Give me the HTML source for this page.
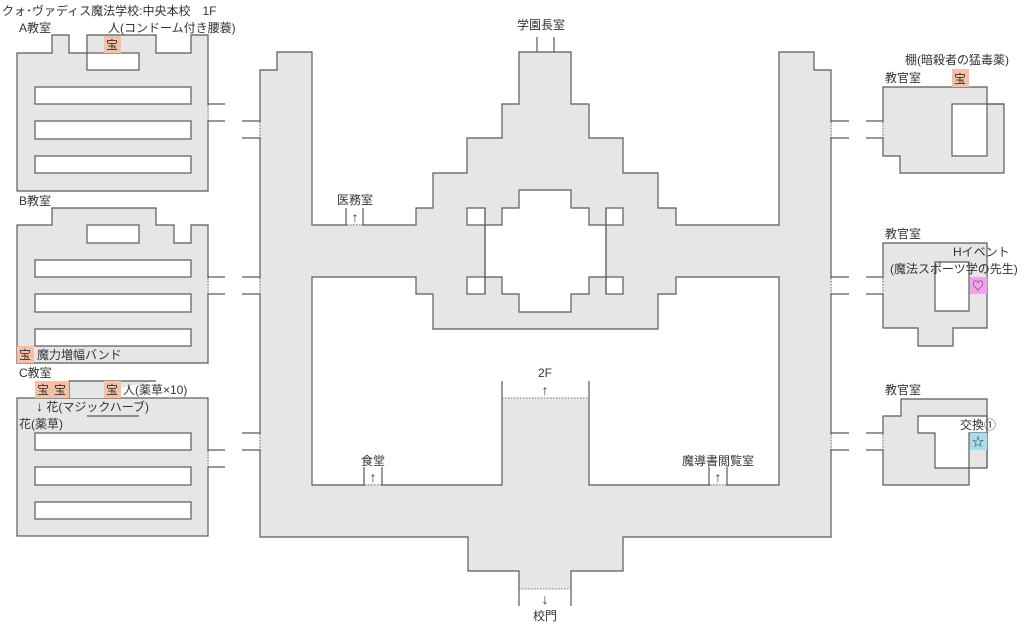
<!DOCTYPE html>
<html><head><meta charset="utf-8"><style>
html,body{margin:0;padding:0;background:#fff;}
svg{display:block;}
text{font-family:"Liberation Sans","Noto Sans CJK JP",sans-serif;font-size:12px;fill:#333;}
.ar{font-size:14px;}
</style></head><body>
<svg width="1024" height="628" viewBox="0 0 1024 628" xmlns="http://www.w3.org/2000/svg">
<g fill="#e6e6e6" stroke="#5a5a5a" stroke-width="1.2">
<path fill-rule="evenodd" stroke="none" d="M260,70 L277,70 L277,52 L312,52 L312,225 L416,225 L416,208 L433,208 L433,173 L467,173 L467,138 L502,138 L502,104 L519,104 L519,52 L571,52 L571,104 L589,104 L589,138 L623,138 L623,173 L658,173 L658,208 L676,208 L676,225 L779,225 L779,52 L814,52 L814,70 L831,70 L831,537 L623,537 L623,571 L571,571 L571,589 L519,589 L519,571 L468,571 L468,537 L260,537 Z
M312,277 L416,277 L416,294 L433,294 L433,329 L658,329 L658,294 L676,294 L676,277 L779,277 L779,485 L589,485 L589,398 L502,398 L502,485 L312,485 Z
M519,190 L571,190 L571,208 L589,208 L589,225 L606,225 L606,277 L589,277 L589,294 L571,294 L571,312 L519,312 L519,294 L502,294 L502,277 L485,277 L485,225 L502,225 L502,208 L519,208 Z"/>
<polyline fill="none" points="571,606 571,571 623,571 623,537 831,537 831,70 814,70 814,52 779,52 779,225 676,225 676,208 658,208 658,173 623,173 623,138 589,138 589,104 571,104 571,52 519,52 519,104 502,104 502,138 467,138 467,173 433,173 433,208 416,208 416,225 312,225 312,52 277,52 277,70 260,70 260,537 468,537 468,571 519,571 519,606"/>
<polyline fill="none" points="589,381 589,485 779,485 779,277 676,277 676,294 658,294 658,329 433,329 433,294 416,294 416,277 312,277 312,485 502,485 502,381"/>
<polygon fill="none" points="519,190 571,190 571,208 589,208 589,225 606,225 606,277 589,277 589,294 571,294 571,312 519,312 519,294 502,294 502,277 485,277 485,225 502,225 502,208 519,208"/>
<rect x="467" y="208" width="18" height="17" fill="#fff"/>
<rect x="467" y="277" width="18" height="17" fill="#fff"/>
<rect x="606" y="208" width="17" height="17" fill="#fff"/>
<rect x="606" y="277" width="17" height="17" fill="#fff"/>
<line x1="485" y1="208" x2="485" y2="294"/>
<line x1="606" y1="208" x2="606" y2="294"/>
<line x1="537" y1="37" x2="537" y2="52"/><line x1="554" y1="37" x2="554" y2="52"/>
<line x1="346" y1="208" x2="346" y2="225"/><line x1="363" y1="208" x2="363" y2="225"/>
<line x1="364" y1="467" x2="364" y2="485"/><line x1="382" y1="467" x2="382" y2="485"/>
<line x1="709" y1="467" x2="709" y2="485"/><line x1="727" y1="467" x2="727" y2="485"/>

<polygon points="17,53 52,53 52,35 69,35 69,53 87,53 87,35 156,35 156,53 191,53 191,35 208,35 208,191 17,191"/>
<rect x="87" y="53" width="52" height="17" fill="#fff"/>
<rect x="35" y="87" width="156" height="17" fill="#fff"/>
<rect x="35" y="121" width="156" height="18" fill="#fff"/>
<rect x="35" y="156" width="156" height="17" fill="#fff"/>
<polygon points="17,225 52,225 52,208 156,208 156,225 174,225 174,243 191,243 191,225 208,225 208,363 17,363"/>
<rect x="87" y="225" width="52" height="18" fill="#fff"/>
<rect x="35" y="260" width="156" height="17" fill="#fff"/>
<rect x="35" y="294" width="156" height="18" fill="#fff"/>
<rect x="35" y="329" width="156" height="17" fill="#fff"/>
<rect x="17" y="398" width="191" height="138"/>
<polyline fill="#e6e6e6" points="69,398 69,381 156,381" />
<rect x="70" y="382" width="50" height="16" stroke="none"/>
<rect x="35" y="433" width="156" height="17" fill="#fff"/>
<rect x="35" y="467" width="156" height="18" fill="#fff"/>
<rect x="35" y="502" width="156" height="17" fill="#fff"/>
<line x1="87" y1="416" x2="139" y2="416"/>

<polygon points="883,87 987,87 987,104 1004,104 1004,173 900,173 900,156 883,156"/>
<rect x="952" y="104" width="35" height="52" fill="#fff"/>
<line x1="987" y1="104" x2="1004" y2="104"/>
<polygon points="883,243 987,243 987,328 953,328 953,346 918,346 918,328 883,328"/>
<polygon points="935,262 969,262 969,311 935,311" fill="#fff"/>
<polygon points="883,416 901,416 901,399 987,399 987,468 969,468 969,485 883,485"/>
<polygon points="918,416 987,416 987,433 969,433 969,468 935,468 935,433 918,433" fill="#fff"/>
<line x1="987" y1="416" x2="987" y2="468"/>

<line x1="208" y1="104" x2="225" y2="104"/><line x1="208" y1="121" x2="225" y2="121"/>
<line x1="242" y1="121" x2="260" y2="121"/><line x1="242" y1="138" x2="260" y2="138"/>
<line x1="208" y1="277" x2="225" y2="277"/><line x1="208" y1="294" x2="225" y2="294"/>
<line x1="242" y1="277" x2="260" y2="277"/><line x1="242" y1="294" x2="260" y2="294"/>
<line x1="208" y1="450" x2="225" y2="450"/><line x1="208" y1="467" x2="225" y2="467"/>
<line x1="242" y1="433" x2="260" y2="433"/><line x1="242" y1="450" x2="260" y2="450"/>
<line x1="831" y1="121" x2="849" y2="121"/><line x1="831" y1="138" x2="849" y2="138"/>
<line x1="866" y1="121" x2="883" y2="121"/><line x1="866" y1="138" x2="883" y2="138"/>
<line x1="831" y1="277" x2="849" y2="277"/><line x1="831" y1="294" x2="849" y2="294"/>
<line x1="866" y1="277" x2="883" y2="277"/><line x1="866" y1="294" x2="883" y2="294"/>
<line x1="831" y1="433" x2="849" y2="433"/><line x1="831" y1="450" x2="849" y2="450"/>
<line x1="866" y1="433" x2="883" y2="433"/><line x1="866" y1="450" x2="883" y2="450"/>
</g>
<g stroke-width="2" stroke="#e6e6e6">
<line x1="208" y1="105" x2="208" y2="120"/>
<line x1="260" y1="122" x2="260" y2="137"/>
<line x1="208" y1="278" x2="208" y2="293"/>
<line x1="260" y1="278" x2="260" y2="293"/>
<line x1="208" y1="451" x2="208" y2="466"/>
<line x1="260" y1="434" x2="260" y2="449"/>
<line x1="831" y1="122" x2="831" y2="137"/>
<line x1="831" y1="278" x2="831" y2="293"/>
<line x1="831" y1="434" x2="831" y2="449"/>
<line x1="883" y1="122" x2="883" y2="137"/>
<line x1="883" y1="278" x2="883" y2="293"/>
<line x1="883" y1="434" x2="883" y2="449"/>
<line x1="347" y1="225" x2="362" y2="225"/>
<line x1="365" y1="485" x2="381" y2="485"/>
<line x1="710" y1="485" x2="726" y2="485"/>
</g>
<g stroke="#777" stroke-width="1" stroke-dasharray="1.5,1.5" fill="none">
<line x1="208" y1="105" x2="208" y2="120"/><line x1="260" y1="122" x2="260" y2="137"/>
<line x1="208" y1="278" x2="208" y2="293"/><line x1="260" y1="278" x2="260" y2="293"/>
<line x1="208" y1="451" x2="208" y2="466"/><line x1="260" y1="434" x2="260" y2="449"/>
<line x1="831" y1="122" x2="831" y2="137"/><line x1="831" y1="278" x2="831" y2="293"/><line x1="831" y1="434" x2="831" y2="449"/>
<line x1="883" y1="122" x2="883" y2="137"/><line x1="883" y1="278" x2="883" y2="293"/><line x1="883" y1="434" x2="883" y2="449"/>
<line x1="347" y1="225" x2="362" y2="225"/><line x1="365" y1="485" x2="381" y2="485"/><line x1="710" y1="485" x2="726" y2="485"/>
<line x1="502" y1="398" x2="589" y2="398"/><line x1="519" y1="589" x2="571" y2="589"/>
</g>
<rect x="104" y="36" width="17" height="17" fill="#f6c0a4"/>
<rect x="17" y="346" width="17" height="17" fill="#f6c0a4"/>
<rect x="35" y="381" width="17" height="17" fill="#f6c0a4"/>
<rect x="52" y="381" width="17" height="17" fill="#f6c0a4"/>
<rect x="104" y="381" width="17" height="17" fill="#f6c0a4"/>
<rect x="952" y="69" width="17" height="18" fill="#f6c0a4"/>
<rect x="970" y="277" width="17" height="17" fill="#f2a0f0"/>
<rect x="970" y="433" width="17" height="17" fill="#a9dcef"/>
<text x="2" y="15">クォ･ヴァディス魔法学校:中央本校　1F</text>
<text x="19" y="32">A教室</text>
<text x="108" y="32">人(コンドーム付き腰蓑)</text>
<text x="106" y="49">宝</text>
<text x="19" y="205">B教室</text>
<text x="19" y="359">宝</text><text x="37" y="359">魔力増幅バンド</text>
<text x="19" y="377">C教室</text>
<text x="37" y="394">宝</text><text x="54" y="394">宝</text><text x="106" y="394">宝</text>
<text x="123" y="394">人(薬草×10)</text>
<text x="36" y="411"><tspan class="ar">↓</tspan> 花(マジックハーブ)</text>
<text x="19" y="428">花(薬草)</text>
<text x="541" y="29" text-anchor="middle">学園長室</text>
<text x="355" y="204" text-anchor="middle">医務室</text>
<text x="355" y="222" text-anchor="middle" class="ar">↑</text>
<text x="373" y="465" text-anchor="middle">食堂</text>
<text x="373" y="482" text-anchor="middle" class="ar">↑</text>
<text x="718" y="465" text-anchor="middle">魔導書閲覧室</text>
<text x="718" y="482" text-anchor="middle" class="ar">↑</text>
<text x="545" y="377" text-anchor="middle">2F</text>
<text x="545" y="395" text-anchor="middle" class="ar">↑</text>
<text x="545" y="604" text-anchor="middle" class="ar">↓</text>
<text x="545" y="620" text-anchor="middle">校門</text>
<text x="905" y="64">棚(暗殺者の猛毒薬)</text>
<text x="885" y="82">教官室</text>
<text x="954" y="83">宝</text>
<text x="885" y="238">教官室</text>
<text x="953" y="256">Hイベント</text>
<line x1="935" y1="262" x2="969" y2="262" stroke="#5a5a5a"/>
<text x="890" y="273">(魔法スポーツ学の先生)</text>
<text x="978" y="290" text-anchor="middle" font-size="11">♡</text>
<text x="885" y="394">教官室</text>
<text x="960" y="429">交換①</text>
<text x="978" y="446" text-anchor="middle">☆</text>
</svg>
</body></html>
